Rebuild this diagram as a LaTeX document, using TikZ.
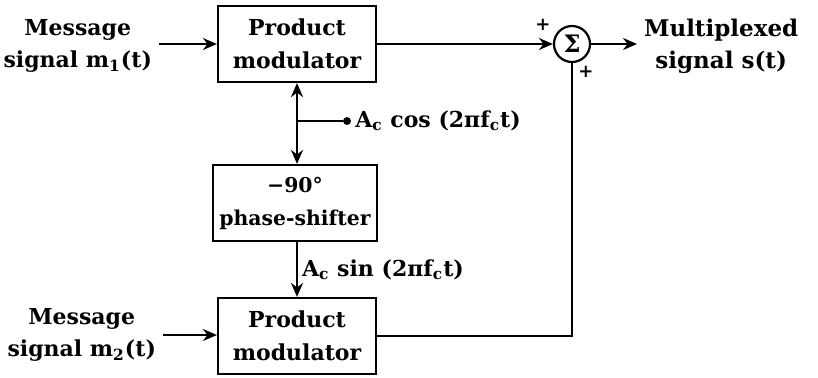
\documentclass[tikz,border=0pt]{standalone}
\usepackage{fontspec}
\setmainfont{DejaVu Serif}
\usepackage{tikz}
\usetikzlibrary{arrows.meta, positioning, calc}

\begin{document}
\begin{tikzpicture}[x=0.5pt, y=-0.5pt,
    blk/.style={draw, line width=1.1pt, minimum width=79pt, minimum height=38pt,
                align=center, font=\fontsize{11}{16.5}\selectfont\bfseries, inner sep=2pt},
    sumnode/.style={draw, circle, line width=1.1pt, minimum size=18pt, inner sep=0pt,
                    font=\large\bfseries},
    lbl/.style={align=center, font=\fontsize{11}{16}\selectfont\bfseries},
    sgn/.style={font=\bfseries\small, inner sep=0pt},
    arr/.style={-{Stealth[length=7pt, width=6pt]}, line width=1.1pt},
    dot/.style={draw, circle, fill=black, minimum size=3.5pt, inner sep=0pt},
]
    \useasboundingbox (0,0) rectangle (818,377);

    \node[blk] (pm1) at (297,44) {Product\\modulator};
    \node[blk, minimum width=82pt, font=\fontsize{10.2}{16.5}\selectfont\bfseries] (shift) at (295,203) {−90°\\phase-shifter};
    \node[blk] (pm2) at (297,336) {Product\\modulator};
    \node[sumnode] (sum) at (572,44) {Σ};

    \node[lbl, anchor=east] (m1) at (159,46) {Message\\signal m\textsubscript{1}(t)};
    \node[lbl, anchor=east] (m2) at (163,335) {Message\\signal m\textsubscript{2}(t)};
    \node[lbl, anchor=west, font=\fontsize{11.5}{16}\selectfont\bfseries] (out) at (637,46) {Multiplexed\\signal s(t)};

    \node[dot] (cos) at (347,121) {};
    \coordinate (tap) at (pm1.south |- cos);
    \node[lbl, anchor=west, inner sep=2pt] (coslbl) at (cos.east) {A\textsubscript{c} cos (2πf\textsubscript{c}t)};

    \node[sgn] (plus1) at (543,25) {+};
    \node[sgn] (plus2) at (586,72) {+};

    \draw[arr] (m1.east |- pm1.west) -- (pm1.west);
    \draw[arr] (m2.east) -- (m2.east -| pm2.west);
    \draw[{Stealth[length=7pt, width=6pt]}-{Stealth[length=7pt, width=6pt]}, line width=1.1pt]
        (pm1.south) -- (pm1.south |- shift.north);
    \draw[line width=1.1pt] (tap) -- (cos);
    \draw[arr] (shift.south -| pm2.north) -- node[lbl, right, inner sep=2pt] (sinlbl) {A\textsubscript{c} sin (2πf\textsubscript{c}t)} (pm2.north);
    \draw[arr] (pm1.east) -- (sum.west);
    \draw[line width=1.1pt] (pm2.east) -| (sum.south);
    \draw[arr] (sum.east) -- (sum.east -| out.west);
\end{tikzpicture}
\end{document}
